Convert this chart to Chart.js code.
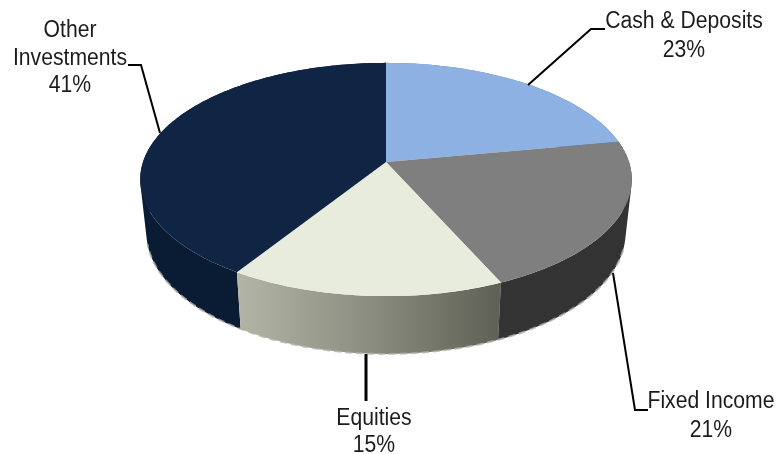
<!DOCTYPE html>
<html>
<head>
<meta charset="utf-8">
<title>Asset allocation</title>
<script src="https://cdn.jsdelivr.net/npm/chart.js@4"></script>
<style>
  html, body { margin:0; padding:0; background:#fff; }
  canvas { display:block; }
</style>
</head>
<body>
<canvas id="chart" width="778" height="454"></canvas>
<script>
const categories = ['Cash & Deposits', 'Fixed Income', 'Equities', 'Other Investments'];
const shares     = [23, 21, 15, 41];

// ── Look ──────────────────────────────────────────────────────
const TOP_COLORS  = ['#8db1e2', '#7f7f7f', '#e8ecdc', '#0f2543'];
const WALL_COLORS = ['#5f7ea8', '#333333', null, '#0a1c33'];
const WALL_ORDER  = [0, 3, 2, 1];           // back to front

// label lines and leader lines per slice
const LABEL_LINES = [['Cash & Deposits'], ['Fixed Income'], ['Equities'], ['Other', 'Investments']];
const LABEL_POS   = [{x:684,y:28,gap:29}, {x:711,y:408,gap:29}, {x:374,y:425,gap:27}, {x:70,y:37,gap:27.5}];
const LEADERS     = [
  {w:2,   pts:[[528,85],[591,29],[605,29]]},
  {w:2,   pts:[[613,273],[635,410],[648,410]]},
  {w:3,   pts:[[366,354],[366,401]]},
  {w:2,   pts:[[128,65],[141,65],[160,133]]},
];

// ── Fake perspective ──────────────────────────────────────────
const PERSP = 0.15, DEPTH = 114, WALL_H = 52, BOTTOM_SCALE = 0.975, RADIUS_SCALE = 1.5;
// the original 3d view pulls the right-hand slices round a little
const WARP = 3.5 * Math.PI / 180, WARP_END = 212 * Math.PI / 180;

function project(arc, a, lev) {
  const fromTop = ((a + Math.PI / 2) % (2 * Math.PI) + 2 * Math.PI) % (2 * Math.PI);
  const b = fromTop < WARP_END ? a - WARP * Math.sin(Math.PI * fromTop / WARP_END) : a;
  const R = arc.outerRadius * RADIUS_SCALE;
  const s = lev ? BOTTOM_SCALE : 1;
  const u = Math.cos(b), v = Math.sin(b);
  const w = 1 - PERSP * v;
  return [arc.x + R * s * u / w, arc.y + (DEPTH * s * v + WALL_H * lev) / w];
}

function rim(arc, from, to, lev) {
  const n = Math.max(2, Math.ceil(Math.abs(to - from) / (Math.PI / 180)));
  const out = [];
  for (let i = 0; i <= n; i++) out.push(project(arc, from + (to - from) * i / n, lev));
  return out;
}

function addPoly(ctx, pts) {
  pts.forEach((p, i) => i ? ctx.lineTo(p[0], p[1]) : ctx.moveTo(p[0], p[1]));
  ctx.closePath();
}

// wall is one path of small quads, all wound the same way so nonzero fill keeps the folds
function traceWall(ctx, top, bot) {
  ctx.beginPath();
  for (let i = 0; i < top.length - 1; i++) {
    const q = [top[i], top[i + 1], bot[i + 1], bot[i]];
    let area = 0;
    q.forEach((p, k) => { const n = q[(k + 1) % 4]; area += p[0] * n[1] - n[0] * p[1]; });
    addPoly(ctx, area < 0 ? q.reverse() : q);
  }
}

const pie3d = {
  id: 'pie3d',
  // chart.js has laid out the arcs, we only change how they are painted
  beforeDatasetsDraw(chart) {
    const ctx  = chart.ctx;
    const arcs = chart.getDatasetMeta(0).data;

    WALL_ORDER.forEach(i => {
      const arc = arcs[i];
      const top = rim(arc, arc.startAngle, arc.endAngle, 0);
      const bot = rim(arc, arc.startAngle, arc.endAngle, 1);
      traceWall(ctx, top, bot);
      if (WALL_COLORS[i]) {
        ctx.fillStyle = WALL_COLORS[i];
      } else {
        const grad = ctx.createLinearGradient(top[top.length - 1][0], 0, top[0][0], 0);
        grad.addColorStop(0, '#b3b6a6');
        grad.addColorStop(0.5, '#8b8d80');
        grad.addColorStop(1, '#5e6055');
        ctx.fillStyle = grad;
      }
      ctx.fill();
    });

    // soft blocky fringe along the foot of the wall
    const a0 = arcs[3];
    ctx.save();
    ctx.strokeStyle = 'rgba(175,176,170,0.75)';
    ctx.lineWidth = 2;
    ctx.setLineDash([7, 4]);
    ctx.beginPath();
    rim(a0, 0.35, Math.PI - 0.25, 1).forEach((p, i) => i ? ctx.lineTo(p[0], p[1]) : ctx.moveTo(p[0], p[1]));
    ctx.stroke();
    ctx.restore();

    arcs.forEach((arc, i) => {
      ctx.beginPath();
      addPoly(ctx, [[arc.x, arc.y]].concat(rim(arc, arc.startAngle, arc.endAngle, 0)));
      ctx.fillStyle = TOP_COLORS[i];
      ctx.fill();
    });
    return false;
  },
  afterDraw(chart) {
    const ctx = chart.ctx;
    ctx.save();
    ctx.strokeStyle = '#000';
    ctx.lineJoin = 'miter';
    LEADERS.forEach(l => {
      ctx.lineWidth = l.w;
      ctx.beginPath();
      l.pts.forEach((p, i) => i ? ctx.lineTo(p[0], p[1]) : ctx.moveTo(p[0], p[1]));
      ctx.stroke();
    });
    ctx.fillStyle = '#1c1c1c';
    ctx.font = '23px "Liberation Sans"';
    ctx.textAlign = 'center';
    ctx.textBaseline = 'alphabetic';
    categories.forEach((c, i) => {
      const pos = LABEL_POS[i];
      const lines = LABEL_LINES[i].concat(shares[i] + '%');
      lines.forEach((t, k) => {
        ctx.save();
        ctx.translate(pos.x, pos.y + k * pos.gap);
        ctx.scale(0.92, 1);      // the source text is drawn a bit condensed
        ctx.fillText(t, 0, 0);
        ctx.restore();
      });
    });
    ctx.restore();
  }
};

new Chart(document.getElementById('chart'), {
  type: 'pie',
  data: { labels: categories, datasets: [{ data: shares, backgroundColor: TOP_COLORS, borderWidth: 0 }] },
  options: {
    responsive: false,
    animation: false,
    layout: { padding: { right: 6, bottom: 130 } },   // puts the apex at 386,162
    plugins: { legend: { display: false }, tooltip: { enabled: false } },
    events: [],
  },
  plugins: [pie3d],
});
</script>
</body>
</html>
